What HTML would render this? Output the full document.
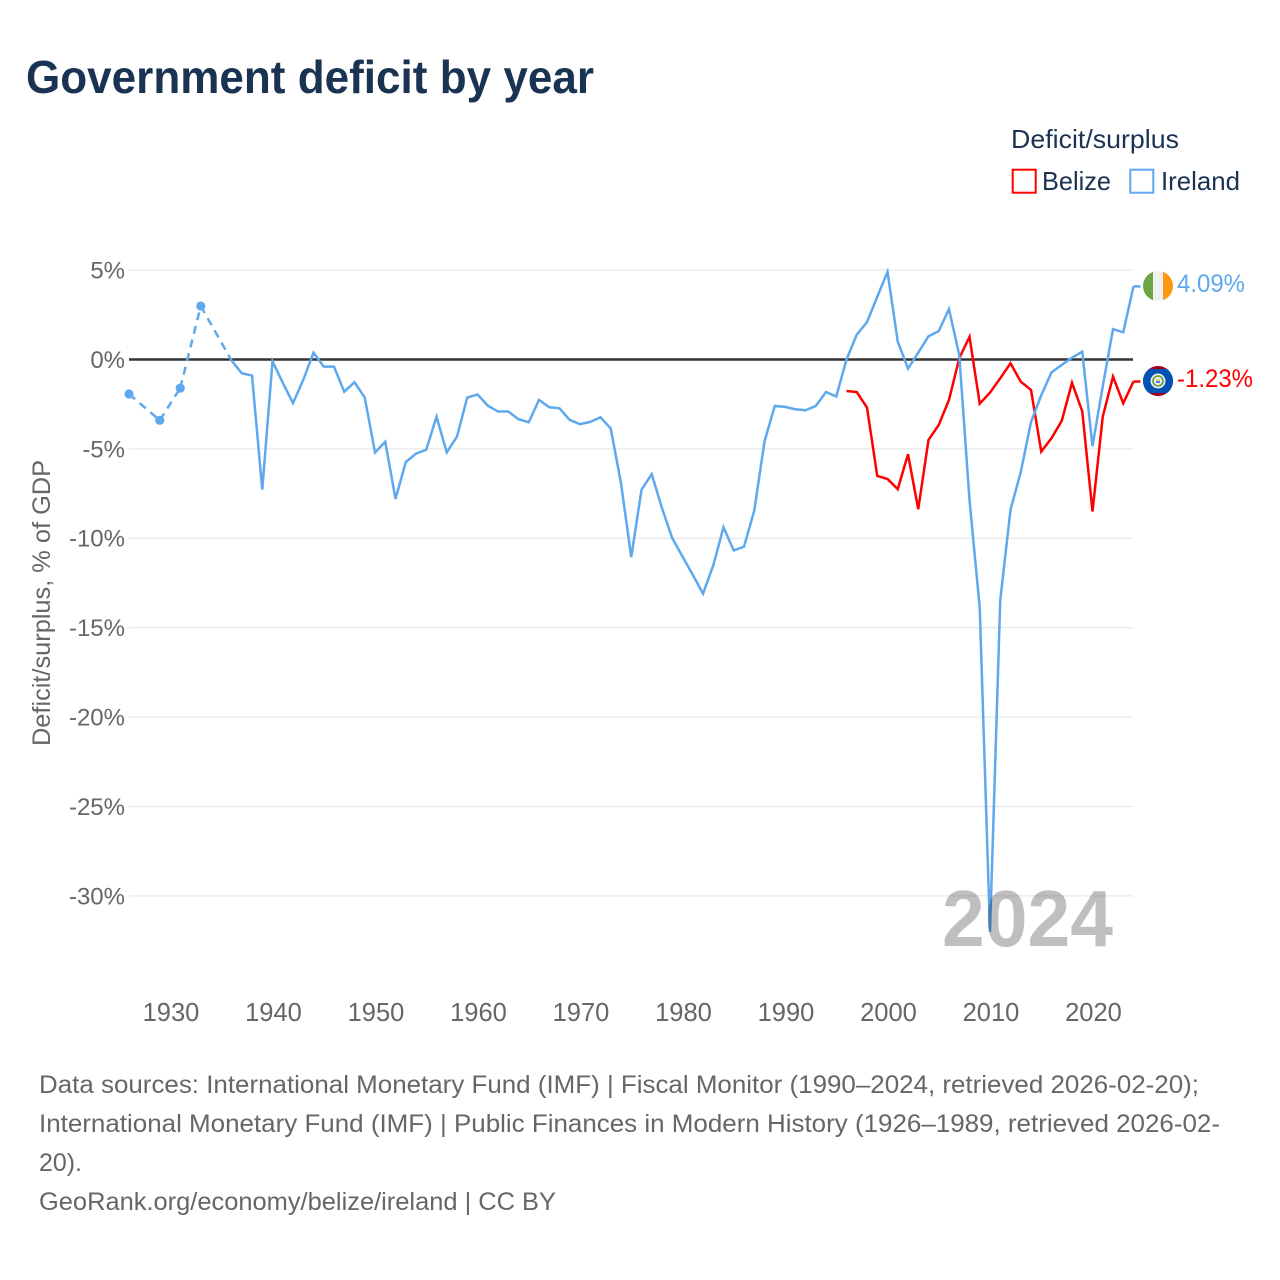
<!DOCTYPE html>
<html lang="en">
<head>
<meta charset="utf-8">
<title>Government deficit by year</title>
<style>
html,body{margin:0;padding:0;background:#fff;width:1280px;height:1280px;overflow:hidden}
svg{display:block}
text{font-family:"Liberation Sans",sans-serif}
</style>
</head>
<body>
<svg id="chart" width="1280" height="1280" viewBox="0 0 1280 1280" xmlns="http://www.w3.org/2000/svg">
  <defs>
    <clipPath id="clip-ie"><circle cx="1158" cy="286" r="15"/></clipPath>
    <clipPath id="clip-bz"><circle cx="1158" cy="381" r="15"/></clipPath>
  </defs>
  <text x="26" y="93" font-size="46" font-weight="700" fill="#1a3353" textLength="568" lengthAdjust="spacingAndGlyphs">Government deficit by year</text>

  <g>
    <text x="1011" y="148" font-size="26" fill="#1a3353" textLength="168" lengthAdjust="spacingAndGlyphs">Deficit/surplus</text>
    <rect x="1012.7" y="169.7" width="23" height="23" fill="none" stroke="#ff0000" stroke-width="2"/>
    <text x="1042" y="190" font-size="26" fill="#1a3353" textLength="69" lengthAdjust="spacingAndGlyphs">Belize</text>
    <rect x="1130.3" y="169.7" width="23" height="23" fill="none" stroke="#5fa8ee" stroke-width="2"/>
    <text x="1161" y="190" font-size="26" fill="#1a3353" textLength="79" lengthAdjust="spacingAndGlyphs">Ireland</text>
  </g>

  <text transform="translate(50,603) rotate(-90)" text-anchor="middle" font-size="25" fill="#666666" textLength="286" lengthAdjust="spacingAndGlyphs">Deficit/surplus, % of GDP</text>

  <g id="grid"></g>
  <g id="yticks"></g>
  <g id="xticks"></g>
  <g id="series"></g>

  <text x="1113" y="946" text-anchor="end" font-size="80" font-weight="700" fill="#000000" fill-opacity="0.25" textLength="171" lengthAdjust="spacingAndGlyphs">2024</text>

  <g clip-path="url(#clip-ie)">
    <rect x="1143" y="271" width="10" height="30" fill="#6da544"/>
    <rect x="1153" y="271" width="10" height="30" fill="#f0f0f0"/>
    <rect x="1163" y="271" width="10" height="30" fill="#ff9811"/>
  </g>
  <g clip-path="url(#clip-bz)">
    <rect x="1143" y="366" width="30" height="30" fill="#a2001d"/>
    <rect x="1143" y="369" width="30" height="24" fill="#0052b4"/>
    <circle cx="1158" cy="381" r="7.5" fill="#f0f0f0"/>
    <circle cx="1158" cy="381" r="5" fill="none" stroke="#6da544" stroke-width="1.8"/>
    <rect x="1156" y="379" width="4" height="2" fill="#ffc46b"/>
    <rect x="1156" y="381" width="4" height="2" fill="#338af3"/>
  </g>
  <text id="label-ie" x="1177" y="292" font-size="25" fill="#5fa8ee" textLength="68" lengthAdjust="spacingAndGlyphs"></text>
  <text id="label-bz" x="1177" y="387" font-size="25" fill="#ff0000" textLength="76" lengthAdjust="spacingAndGlyphs"></text>

  <g font-size="25" fill="#666666">
    <text x="39" y="1093" textLength="1160" lengthAdjust="spacingAndGlyphs">Data sources: International Monetary Fund (IMF) | Fiscal Monitor (1990–2024, retrieved 2026-02-20);</text>
    <text x="39" y="1132" textLength="1181" lengthAdjust="spacingAndGlyphs">International Monetary Fund (IMF) | Public Finances in Modern History (1926–1989, retrieved 2026-02-</text>
    <text x="39" y="1171" textLength="43" lengthAdjust="spacingAndGlyphs">20).</text>
    <text x="39" y="1210" textLength="517" lengthAdjust="spacingAndGlyphs">GeoRank.org/economy/belize/ireland | CC BY</text>
  </g>
</svg>
<script>
const xTickYears = [1930,1940,1950,1960,1970,1980,1990,2000,2010,2020];
const yTickValues = [5,0,-5,-10,-15,-20,-25,-30];
const irelandStartYear = 1926;
const irelandValues = [
  -1.93,null,null,-3.4,null,-1.6,null,2.99,null,null,
  -0.05,-0.77,-0.9,-7.28,-0.1,-1.3,-2.44,-1.14,0.38,-0.4,
  -0.4,-1.8,-1.27,-2.13,-5.2,-4.6,-7.8,-5.74,-5.26,-5.05,
  -3.2,-5.19,-4.31,-2.13,-1.95,-2.58,-2.91,-2.91,-3.34,-3.51,
  -2.26,-2.67,-2.73,-3.38,-3.62,-3.49,-3.23,-3.86,-6.92,-11.05,
  -7.29,-6.41,-8.32,-9.99,-11.02,-12.04,-13.1,-11.52,-9.38,-10.68,
  -10.47,-8.45,-4.59,-2.6,-2.65,-2.78,-2.84,-2.6,-1.82,-2.07,
  0,1.39,2.09,3.51,4.9,1.0,-0.51,0.38,1.3,1.59,
  2.82,0.25,-7.85,-13.9,-32.0,-13.45,-8.4,-6.3,-3.5,-2.0,
  -0.72,-0.3,0.1,0.44,-4.85,-1.5,1.7,1.52,4.09
];
const belizeStartYear = 1996;
const belizeValues = [
  -1.76,-1.82,-2.69,-6.51,-6.68,-7.25,-5.3,-8.37,-4.5,-3.66,
  -2.26,0.07,1.27,-2.47,-1.85,-1.05,-0.21,-1.24,-1.7,-5.15,
  -4.4,-3.43,-1.3,-2.9,-8.5,-3.2,-0.96,-2.45,-1.23
];

const NS = 'http://www.w3.org/2000/svg';
const xScale = function (year) { return 129 + (year - 1926) * (1133.5 - 129) / 98; };
const yScale = function (value) { return 359.5 - value * 17.88; };

function make(tag, parent, attrs) {
  const el = document.createElementNS(NS, tag);
  for (const key in attrs) el.setAttribute(key, attrs[key]);
  parent.appendChild(el);
  return el;
}
function pointsOf(list) {
  return list.map(function (p) { return xScale(p.year).toFixed(2) + ',' + yScale(p.value).toFixed(2); }).join(' ');
}

const gridGroup = document.getElementById('grid');
const yTickGroup = document.getElementById('yticks');
const xTickGroup = document.getElementById('xticks');
const seriesGroup = document.getElementById('series');

yTickValues.forEach(function (v) {
  const line = make('line', gridGroup, { x1: 129, x2: 1133, y1: yScale(v), y2: yScale(v), stroke: v === 0 ? '#333333' : '#e8e8e8', 'stroke-width': v === 0 ? 2.4 : 1.3 });
  
  
  const label = make('text', yTickGroup, { x: 125, y: yScale(v) + 8.4, 'text-anchor': 'end', 'font-size': 24, fill: '#666666' });
  label.textContent = v + '%';
  
  
});

xTickYears.forEach(function (year) {
  const label = make('text', xTickGroup, { x: xScale(year) + 1, y: 1021, 'text-anchor': 'middle', 'font-size': 25.5, fill: '#666666' });
  label.textContent = String(year);
  
  
});

function drawSeries(name, startYear, values, color) {
  const defined = [];
  values.forEach(function (v, i) {
    if (v !== null) defined.push({ year: startYear + i, value: v });
  });
  const g = make('g', seriesGroup, {});
  
  

  let run = [];
  const flush = function () {
    if (run.length > 1) {
      const solid = make('polyline', g, { points: pointsOf(run), fill: 'none', stroke: color, 'stroke-width': 2.5, 'stroke-linejoin': 'miter' });
      
      
    } else if (run.length === 1) {
      const idx = defined.indexOf(run[0]);
      const next = defined[idx + 1];
      if (next && next.year - run[0].year > 1) {
        const dot = make('circle', g, { cx: xScale(run[0].year), cy: yScale(run[0].value), r: 4.6, fill: color });
        
        
      }
    }
    run = [];
  };
  defined.forEach(function (p, i) {
    if (i > 0 && p.year - defined[i - 1].year > 1) {
      flush();
      const gap = make('polyline', g, { points: pointsOf([defined[i - 1], p]), fill: 'none', stroke: color, 'stroke-width': 2.5, 'stroke-dasharray': '8 6' });
      
      
    }
    run.push(p);
  });
  flush();

  const last = defined[defined.length - 1];
  const conn = make('line', g, { x1: xScale(last.year), x2: xScale(last.year) + 7, y1: yScale(last.value), y2: yScale(last.value), stroke: color, 'stroke-width': 2.5 });
  
  
  return last;
}

const belizeLast = drawSeries('belize', belizeStartYear, belizeValues, '#ff0000');
const irelandLast = drawSeries('ireland', irelandStartYear, irelandValues, '#5fa8ee');
document.getElementById('label-ie').textContent = irelandLast.value.toFixed(2) + '%';
document.getElementById('label-bz').textContent = belizeLast.value.toFixed(2) + '%';
</script>
</body>
</html>
